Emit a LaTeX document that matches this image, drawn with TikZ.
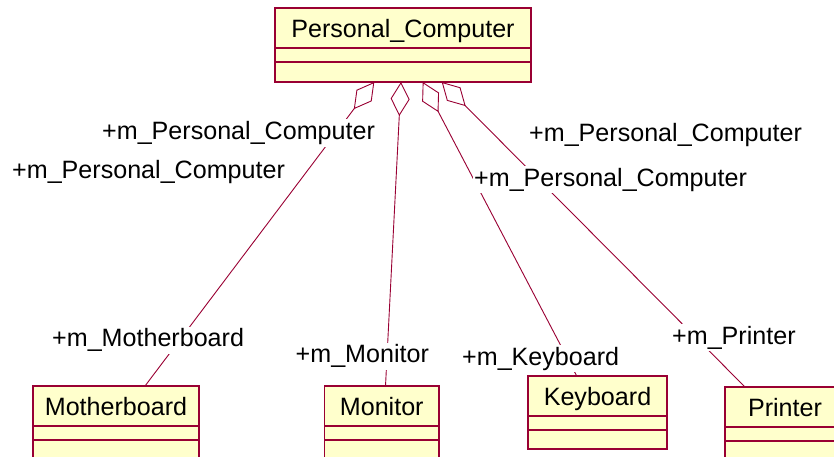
\documentclass[tikz,border=0pt]{standalone}
\usepackage{fontspec}
\setmainfont{Liberation Sans}
\usetikzlibrary{arrows.meta,calc}
\definecolor{umlfill}{RGB}{255,255,204}
\definecolor{umlline}{RGB}{153,0,51}
\begin{document}
\begin{tikzpicture}[x=1pt,y=-1pt,
  font=\fontsize{25.1}{29}\selectfont,
  hdr/.style={draw=umlline, fill=umlfill, line width=1.2pt, inner sep=0pt, outer sep=0pt,
    minimum height=40pt, text height=29.5pt, text depth=10.5pt, anchor=north west},
  cmp/.style={draw=umlline, fill=umlfill, line width=1.2pt, inner sep=0pt, outer sep=0pt, anchor=north west},
  assoc/.style={draw=umlline, line width=0.9pt, -{Diamond[open, length=34pt, width=19pt]}},
  role/.style={fill=white, inner xsep=1pt, inner ysep=2pt, anchor=base west}
]
\useasboundingbox (0,0) rectangle (834,457);
\clip (0,0) rectangle (834,457);

% Personal_Computer
\node[hdr, minimum width=256pt] (pcH) at (275,8) {Personal\_Computer};
\node[cmp, minimum width=256pt, minimum height=14pt] (pcA) at (pcH.south west) {};
\node[cmp, minimum width=256pt, minimum height=20pt] (pcO) at (pcA.south west) {};

% Motherboard
\node[hdr, minimum width=166pt] (mbH) at (33,386) {Motherboard};
\node[cmp, minimum width=166pt, minimum height=14pt] (mbA) at (mbH.south west) {};
\node[cmp, minimum width=166pt, minimum height=30pt] (mbO) at (mbA.south west) {};

% Monitor
\node[hdr, minimum width=114.5pt] (monH) at (324.5,386) {Monitor};
\node[cmp, minimum width=114.5pt, minimum height=14pt] (monA) at (monH.south west) {};
\node[cmp, minimum width=114.5pt, minimum height=30pt] (monO) at (monA.south west) {};

% Keyboard
\node[hdr, minimum width=139pt] (kbH) at (528,376) {Keyboard};
\node[cmp, minimum width=139pt, minimum height=14pt] (kbA) at (kbH.south west) {};
\node[cmp, minimum width=139pt, minimum height=19pt] (kbO) at (kbA.south west) {};

% Printer
\node[hdr, minimum width=120pt] (prH) at (725,387) {Printer};
\node[cmp, minimum width=120pt, minimum height=14pt] (prA) at (prH.south west) {};
\node[cmp, minimum width=120pt, minimum height=30pt] (prO) at (prA.south west) {};

% associations (aggregation diamonds at Personal_Computer)
\draw[assoc] ($(mbH.north west)+(112,0)$) -- ($(pcO.south west)+(99.3,0)$);
\draw[assoc] ($(monH.north west)+(61,0)$) -- ($(pcO.south west)+(126,0)$);
\draw[assoc] ($(kbH.north west)+(48.7,0)$) -- ($(pcO.south west)+(147.7,0)$);
\draw[assoc] ($(prH.north west)+(20,0)$) -- ($(pcO.south west)+(166.7,0)$);

% role labels
\node[role] (r1) at (101,139.3) {+m\_Personal\_Computer};
\node[role] (r2) at (11,178.3) {+m\_Personal\_Computer};
\node[role] (r3) at (528,141.7) {+m\_Personal\_Computer};
\node[role] (r4) at (473,186) {+m\_Personal\_Computer};
\node[role] (rMb) at (51,346.7) {+m\_Motherboard};
\node[role] (rMon) at (294.5,362.7) {+m\_Monitor};
\node[role] (rKb) at (461,365) {+m\_Keyboard};
\node[role] (rPr) at (671,344) {+m\_Printer};
\end{tikzpicture}
\end{document}
